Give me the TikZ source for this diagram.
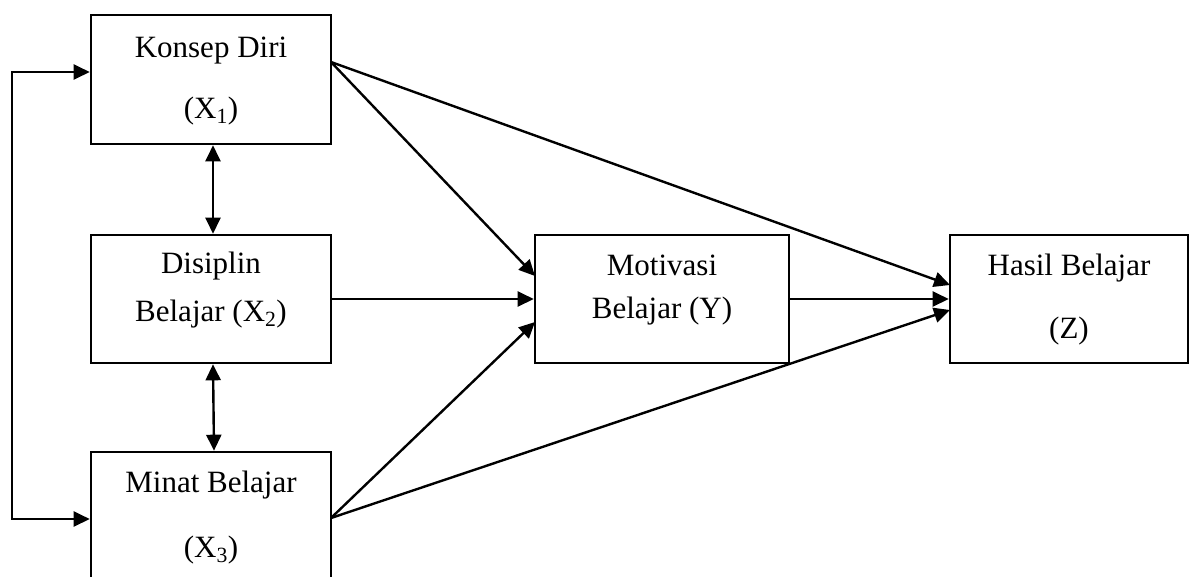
\documentclass[tikz,border=0pt]{standalone}
\usepackage{fontspec}
\setmainfont{Liberation Serif}
\usetikzlibrary{arrows.meta}
\begin{document}
\begin{tikzpicture}[x=1pt,y=-1pt,
  box/.style={draw,line width=2.6pt,minimum width=#1,minimum height=128pt,inner sep=0pt},
  lbl/.style={anchor=base,inner sep=0pt,font=\fontsize{31}{37}\selectfont},
  conn/.style={line width=2.4pt,-{Triangle[length=16pt,width=15pt]}},
  both/.style={line width=2.4pt,{Triangle[length=16pt,width=15pt]}-{Triangle[length=16pt,width=15pt]}}]
\clip (0,0) rectangle (1190,576);
\fill[white] (0,0) rectangle (1190,576);
% boxes
\node[box=240pt,minimum height=129pt] (x1) at (211,79.5) {};
\node[box=240pt] (x2) at (211,299) {};
\node[box=240pt] (x3) at (211,516) {};
\node[box=254pt] (y) at (662,299) {};
\node[box=238pt] (z) at (1069,299) {};
% labels
\node[lbl] (x1a) at (211,57) {Konsep Diri};
\node[lbl] (x1b) at (211,118) {(X\textsubscript{1})};
\node[lbl] (x2a) at (211,273) {Disiplin};
\node[lbl] (x2b) at (211,321) {Belajar (X\textsubscript{2})};
\node[lbl] (x3a) at (211,492) {Minat Belajar};
\node[lbl] (x3b) at (211,557) {(X\textsubscript{3})};
\node[lbl] (ya) at (662,275) {Motivasi};
\node[lbl] (yb) at (662,318) {Belajar (Y)};
\node[lbl] (za) at (1069,275) {Hasil Belajar};
\node[lbl] (zb) at (1069,338) {(Z)};
% coordinates
\coordinate (x1o) at (331,62);
\coordinate (x3o) at (331,518);
\coordinate (yi1) at (535,276);
\coordinate (yi3) at (535,322);
\coordinate (zi1) at (950,285);
\coordinate (zi3) at (950,310);
\coordinate (la) at (12,72);
\coordinate (lb) at (12,519);
% connectors
\draw[both] (x1.west |- la) -- (la) -- (lb) -- (x3.west |- lb);
\draw[both] ([xshift=2pt]x1.south) -- ([xshift=2pt]x2.north);
\draw[both] ([xshift=2pt]x2.south) -- ([xshift=3pt]x3.north);
\draw[conn] (x1o) -- (yi1);
\draw[conn] (x1o) -- (zi1);
\draw[conn] (x2.east) -- (y.west);
\draw[conn] (x3o) -- (yi3);
\draw[conn] (x3o) -- (zi3);
\draw[conn] (y.east) -- (z.west);
\end{tikzpicture}
\end{document}
